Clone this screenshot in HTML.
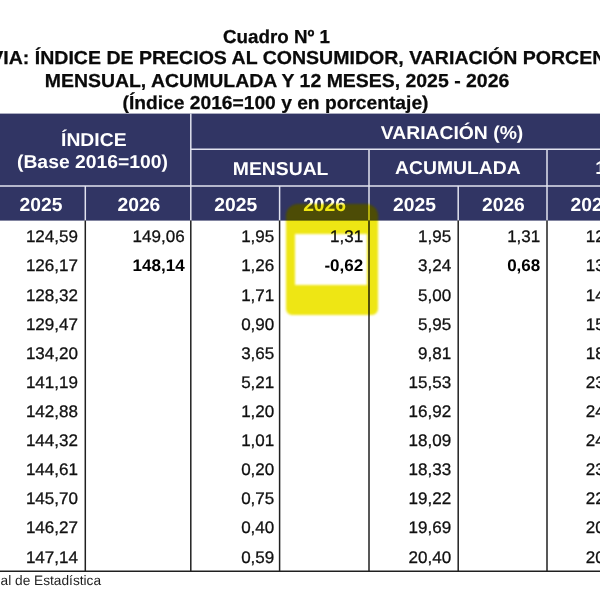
<!DOCTYPE html>
<html lang="es">
<head>
<meta charset="utf-8">
<title>Cuadro Nº 1</title>
<style>
html,body{margin:0;padding:0;}
body{width:600px;height:600px;position:relative;overflow:hidden;background:#fff;font-family:"Liberation Sans",sans-serif;color:#111;}
.page{position:absolute;left:0;top:0;width:600px;height:600px;overflow:hidden;background:#fff;filter:blur(0.4px);}
.tbl{position:absolute;left:0;top:0;font-family:"Liberation Sans",sans-serif;text-rendering:geometricPrecision;}
.tbl text{white-space:pre;}
.t{font-weight:bold;fill:#0a0a0a;stroke:#0a0a0a;stroke-width:0.25px;text-anchor:middle;}
.h{font-weight:bold;fill:#fff;text-anchor:middle;font-size:18.6px;}
.y{font-weight:bold;fill:#fff;text-anchor:middle;font-size:19.0px;}
.d{fill:#111;stroke:#111;stroke-width:0.3px;text-anchor:end;font-size:16.8px;}
.b{font-weight:bold;fill:#000;stroke:none;}
.f{fill:#1e1e1e;font-size:13.7px;}
.hl{stroke:#e2e3ef;stroke-width:1.5;}
.bl{stroke:#202020;stroke-width:1.5;}
.hi{position:absolute;left:286.0px;top:203.9px;width:91.5px;height:111.1px;box-sizing:border-box;border-style:solid;border-color:#eee614;border-width:30.6px 11.2px 30.4px 9.8px;border-radius:12px 12px 6px 6px;mix-blend-mode:multiply;filter:blur(0.8px);}
.hi2{position:absolute;left:286.0px;top:203.9px;width:91.5px;height:16.7px;background:rgba(255,240,0,0.15);border-radius:12px 12px 0 0;filter:blur(0.8px);}
</style>
</head>
<body>
<div class="page">
<svg class="tbl" width="600" height="600" viewBox="0 0 600 600">
<text class="t" transform="translate(276.50 42.90) scale(1.0 1)" font-size="18.8">Cuadro Nº 1</text>
<text class="t" transform="translate(301.00 64.30) scale(1.04 1)" font-size="18.8">BOLIVIA: ÍNDICE DE PRECIOS AL CONSUMIDOR, VARIACIÓN PORCENTUAL</text>
<text class="t" transform="translate(277.00 86.70) scale(1.035 1)" font-size="18.8">MENSUAL, ACUMULADA Y 12 MESES, 2025 - 2026</text>
<text class="t" transform="translate(275.50 108.80) scale(1.023 1)" font-size="18.8">(Índice 2016=100 y en porcentaje)</text>
<rect x="0" y="113.6" width="600" height="107.00" fill="#313564"/>
<line class="hl" x1="0.00" y1="186.00" x2="600.00" y2="186.00"/>
<line class="hl" x1="190.80" y1="149.30" x2="600.00" y2="149.30"/>
<line class="hl" x1="190.80" y1="113.60" x2="190.80" y2="220.60"/>
<line class="hl" x1="369.00" y1="149.30" x2="369.00" y2="220.60"/>
<line class="hl" x1="547.00" y1="149.30" x2="547.00" y2="220.60"/>
<line class="hl" x1="85.30" y1="186.00" x2="85.30" y2="220.60"/>
<line class="hl" x1="279.60" y1="186.00" x2="279.60" y2="220.60"/>
<line class="hl" x1="458.20" y1="186.00" x2="458.20" y2="220.60"/>
<line class="bl" x1="85.30" y1="220.60" x2="85.30" y2="571.95"/>
<line class="bl" x1="190.80" y1="220.60" x2="190.80" y2="571.95"/>
<line class="bl" x1="279.60" y1="220.60" x2="279.60" y2="571.95"/>
<line class="bl" x1="369.00" y1="220.60" x2="369.00" y2="571.95"/>
<line class="bl" x1="458.20" y1="220.60" x2="458.20" y2="571.95"/>
<line class="bl" x1="547.00" y1="220.60" x2="547.00" y2="571.95"/>
<line class="bl" x1="0.00" y1="571.20" x2="600.00" y2="571.20"/>
<text class="h" transform="translate(93.80 146.00) scale(1.04 1)">ÍNDICE</text>
<text class="h" transform="translate(92.50 167.70) scale(1.04 1)">(Base 2016=100)</text>
<text class="h" transform="translate(452.00 138.90) scale(1.04 1)">VARIACIÓN (%)</text>
<text class="h" transform="translate(280.60 174.80) scale(1.04 1)">MENSUAL</text>
<text class="h" transform="translate(457.90 174.30) scale(1.04 1)">ACUMULADA</text>
<text class="h" transform="translate(642.50 174.30) scale(1.04 1)">12 MESES</text>
<text class="y" transform="translate(41.00 210.60) scale(1.015 1)">2025</text>
<text class="y" transform="translate(138.90 210.60) scale(1.015 1)">2026</text>
<text class="y" transform="translate(235.70 210.60) scale(1.015 1)">2025</text>
<text class="y" transform="translate(324.60 210.60) scale(1.015 1)">2026</text>
<text class="y" transform="translate(414.50 210.60) scale(1.015 1)">2025</text>
<text class="y" transform="translate(503.40 210.60) scale(1.015 1)">2026</text>
<text class="y" transform="translate(592.00 210.60) scale(1.015 1)">2025</text>
<text class="d" transform="translate(78.00 242.35) scale(1.015 1)">124,59</text>
<text class="d" transform="translate(184.60 242.35) scale(1.015 1)">149,06</text>
<text class="d" transform="translate(274.30 242.35) scale(1.015 1)">1,95</text>
<text class="d" transform="translate(363.20 242.35) scale(1.015 1)">1,31</text>
<text class="d" transform="translate(451.20 242.35) scale(1.015 1)">1,95</text>
<text class="d" transform="translate(540.30 242.35) scale(1.015 1)">1,31</text>
<text class="d" transform="translate(628.40 242.35) scale(1.015 1)">12,03</text>
<text class="d" transform="translate(78.00 271.45) scale(1.015 1)">126,17</text>
<text class="d b" transform="translate(184.60 271.45) scale(1.015 1)">148,14</text>
<text class="d" transform="translate(274.30 271.45) scale(1.015 1)">1,26</text>
<text class="d b" transform="translate(363.20 271.45) scale(1.015 1)">-0,62</text>
<text class="d" transform="translate(451.20 271.45) scale(1.015 1)">3,24</text>
<text class="d b" transform="translate(540.30 271.45) scale(1.015 1)">0,68</text>
<text class="d" transform="translate(628.40 271.45) scale(1.015 1)">13,20</text>
<text class="d" transform="translate(78.00 300.56) scale(1.015 1)">128,32</text>
<text class="d" transform="translate(274.30 300.56) scale(1.015 1)">1,71</text>
<text class="d" transform="translate(451.20 300.56) scale(1.015 1)">5,00</text>
<text class="d" transform="translate(628.40 300.56) scale(1.015 1)">14,63</text>
<text class="d" transform="translate(78.00 329.66) scale(1.015 1)">129,47</text>
<text class="d" transform="translate(274.30 329.66) scale(1.015 1)">0,90</text>
<text class="d" transform="translate(451.20 329.66) scale(1.015 1)">5,95</text>
<text class="d" transform="translate(628.40 329.66) scale(1.015 1)">15,01</text>
<text class="d" transform="translate(78.00 358.77) scale(1.015 1)">134,20</text>
<text class="d" transform="translate(274.30 358.77) scale(1.015 1)">3,65</text>
<text class="d" transform="translate(451.20 358.77) scale(1.015 1)">9,81</text>
<text class="d" transform="translate(628.40 358.77) scale(1.015 1)">18,46</text>
<text class="d" transform="translate(78.00 387.88) scale(1.015 1)">141,19</text>
<text class="d" transform="translate(274.30 387.88) scale(1.015 1)">5,21</text>
<text class="d" transform="translate(451.20 387.88) scale(1.015 1)">15,53</text>
<text class="d" transform="translate(628.40 387.88) scale(1.015 1)">23,96</text>
<text class="d" transform="translate(78.00 416.98) scale(1.015 1)">142,88</text>
<text class="d" transform="translate(274.30 416.98) scale(1.015 1)">1,20</text>
<text class="d" transform="translate(451.20 416.98) scale(1.015 1)">16,92</text>
<text class="d" transform="translate(628.40 416.98) scale(1.015 1)">24,86</text>
<text class="d" transform="translate(78.00 446.09) scale(1.015 1)">144,32</text>
<text class="d" transform="translate(274.30 446.09) scale(1.015 1)">1,01</text>
<text class="d" transform="translate(451.20 446.09) scale(1.015 1)">18,09</text>
<text class="d" transform="translate(628.40 446.09) scale(1.015 1)">24,15</text>
<text class="d" transform="translate(78.00 475.19) scale(1.015 1)">144,61</text>
<text class="d" transform="translate(274.30 475.19) scale(1.015 1)">0,20</text>
<text class="d" transform="translate(451.20 475.19) scale(1.015 1)">18,33</text>
<text class="d" transform="translate(628.40 475.19) scale(1.015 1)">23,32</text>
<text class="d" transform="translate(78.00 504.29) scale(1.015 1)">145,70</text>
<text class="d" transform="translate(274.30 504.29) scale(1.015 1)">0,75</text>
<text class="d" transform="translate(451.20 504.29) scale(1.015 1)">19,22</text>
<text class="d" transform="translate(628.40 504.29) scale(1.015 1)">22,23</text>
<text class="d" transform="translate(78.00 533.40) scale(1.015 1)">146,27</text>
<text class="d" transform="translate(274.30 533.40) scale(1.015 1)">0,40</text>
<text class="d" transform="translate(451.20 533.40) scale(1.015 1)">19,69</text>
<text class="d" transform="translate(628.40 533.40) scale(1.015 1)">20,96</text>
<text class="d" transform="translate(78.00 562.50) scale(1.015 1)">147,14</text>
<text class="d" transform="translate(274.30 562.50) scale(1.015 1)">0,59</text>
<text class="d" transform="translate(451.20 562.50) scale(1.015 1)">20,40</text>
<text class="d" transform="translate(628.40 562.50) scale(1.015 1)">20,40</text>
<text class="f" transform="translate(0.60 584.60) scale(1.0 1)">al de Estadística</text>
</svg>
<div class="hi"></div>
<div class="hi2"></div>
</div>
</body>
</html>
